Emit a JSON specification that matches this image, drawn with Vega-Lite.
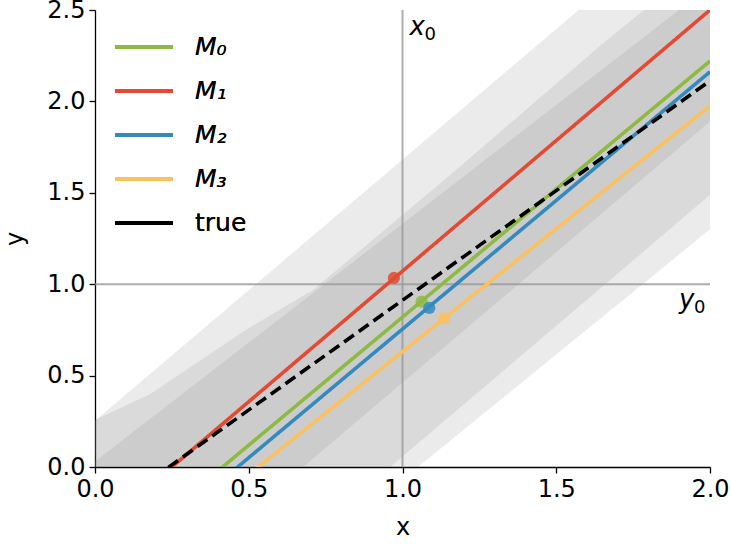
{
  "$schema": "https://vega.github.io/schema/vega-lite/v6.json",
  "width": 615,
  "height": 457,
  "autosize": {"type": "none"},
  "padding": {"left": 95, "top": 10, "right": 21, "bottom": 79},
  "background": "white",
  "config": {
    "view": {"stroke": null},
    "font": "DejaVu Sans",
    "axis": {
      "grid": false, "domainColor": "black", "domainWidth": 1.3, "tickColor": "black", "tickWidth": 1.3, "tickSize": 6,
      "labelFont": "DejaVu Sans", "labelFontSize": 24, "labelColor": "black", "labelPadding": 4, "labelFlush": false, "labelOverlap": false,
      "titleFont": "DejaVu Sans", "titleFontSize": 24, "titleFontWeight": "normal", "titleColor": "black"
    }
  },
  "datasets": {
    "bands": [
      {"band": "a", "x": 0, "lo": -0.967, "hi": 0.253},
      {"band": "a", "x": 2, "lo": 1.89, "hi": 3.11},
      {"band": "b", "x": 0, "lo": -1.37, "hi": 0.257},
      {"band": "b", "x": 0.18, "lo": -1.115, "hi": 0.40},
      {"band": "b", "x": 0.49, "lo": -0.672, "hi": 0.75},
      {"band": "b", "x": 0.71, "lo": -0.357, "hi": 0.97},
      {"band": "b", "x": 1.15, "lo": 0.272, "hi": 1.59},
      {"band": "b", "x": 1.64, "lo": 0.972, "hi": 2.30},
      {"band": "b", "x": 1.785, "lo": 1.18, "hi": 2.5},
      {"band": "b", "x": 2, "lo": 1.49, "hi": 2.8},
      {"band": "c", "x": 0, "lo": -1.437, "hi": 0.03},
      {"band": "c", "x": 2, "lo": 1.30, "hi": 2.63}
    ],
    "lines": [
      {"model": "M₀", "x": 0, "y": -0.581},
      {"model": "M₀", "x": 2, "y": 2.221},
      {"model": "M₁", "x": 0, "y": -0.357},
      {"model": "M₁", "x": 2, "y": 2.5},
      {"model": "M₂", "x": 0, "y": -0.653},
      {"model": "M₂", "x": 2, "y": 2.162},
      {"model": "M₃", "x": 0, "y": -0.714},
      {"model": "M₃", "x": 2, "y": 1.975},
      {"model": "true", "x": 0, "y": -0.288},
      {"model": "true", "x": 2, "y": 2.112}
    ],
    "dots": [
      {"model": "M₀", "x": 1.062, "y": 0.904},
      {"model": "M₁", "x": 0.972, "y": 1.034},
      {"model": "M₂", "x": 1.087, "y": 0.87},
      {"model": "M₃", "x": 1.136, "y": 0.813}
    ],
    "refs": [
      {"x0": 1.0, "y0": 1.0, "xtop": 2.5, "yright": 2.0}
    ]
  },
  "resolve": {"legend": {"color": "independent"}},
  "layer": [
    {
      "data": {"name": "bands"},
      "mark": {"type": "area", "color": "gray", "opacity": 0.16, "clip": true},
      "encoding": {
        "x": {"field": "x", "type": "quantitative", "scale": {"domain": [0, 2], "nice": false}, "axis": {"values": [0, 0.5, 1, 1.5, 2], "format": ".1f", "title": "x", "titlePadding": 14}},
        "y": {"field": "lo", "type": "quantitative", "scale": {"domain": [0, 2.5], "nice": false}, "axis": {"values": [0, 0.5, 1, 1.5, 2, 2.5], "format": ".1f", "title": "y", "titlePadding": 19}},
        "y2": {"field": "hi"},
        "detail": {"field": "band"}
      }
    },
    {
      "data": {"name": "refs"},
      "mark": {"type": "rule", "color": "#999999", "strokeWidth": 2, "opacity": 0.8},
      "encoding": {"x": {"field": "x0", "type": "quantitative"}}
    },
    {
      "data": {"name": "refs"},
      "mark": {"type": "rule", "color": "#999999", "strokeWidth": 2, "opacity": 0.8},
      "encoding": {"y": {"field": "y0", "type": "quantitative"}}
    },
    {
      "data": {"name": "lines"},
      "mark": {"type": "line", "strokeWidth": 3.6, "clip": true},
      "encoding": {
        "x": {"field": "x", "type": "quantitative"},
        "y": {"field": "y", "type": "quantitative"},
        "color": {"field": "model", "type": "nominal",
          "scale": {"domain": ["M₀", "M₁", "M₂", "M₃", "true"], "range": ["#8EBA42", "#E24A33", "#348ABD", "#FBC15E", "#000000"]},
          "legend": {"title": null, "orient": "none", "legendX": 18, "legendY": 6, "symbolType": "stroke", "symbolSize": 3364, "symbolStrokeWidth": 3.8,
            "labelFontSize": 25, "labelFont": "DejaVu Sans", "labelColor": "black", "rowPadding": -17, "labelOffset": 20,
            "encode": {"labels": {"update": {"fontStyle": {"signal": "datum.value === 'true' ? 'normal' : 'italic'"}}}}}},
        "strokeDash": {"field": "model", "type": "nominal",
          "scale": {"domain": ["M₀", "M₁", "M₂", "M₃", "true"], "range": [[1, 0], [1, 0], [1, 0], [1, 0], [12, 6]]},
          "legend": {"title": null, "orient": "none", "legendX": 18, "legendY": 6, "symbolType": "stroke", "symbolSize": 3364, "symbolStrokeWidth": 3.8,
            "labelFontSize": 25, "labelFont": "DejaVu Sans", "labelColor": "black", "rowPadding": -17, "labelOffset": 20,
            "encode": {"labels": {"update": {"fontStyle": {"signal": "datum.value === 'true' ? 'normal' : 'italic'"}}}}}}
      }
    },
    {
      "data": {"name": "dots"},
      "mark": {"type": "circle", "size": 150, "opacity": 0.85},
      "encoding": {
        "x": {"field": "x", "type": "quantitative"},
        "y": {"field": "y", "type": "quantitative"},
        "color": {"field": "model", "type": "nominal", "legend": null}
      }
    },
    {
      "data": {"name": "refs"},
      "mark": {"type": "text", "text": "x", "fontSize": 26, "fontStyle": "italic", "align": "left", "baseline": "alphabetic", "dx": 7, "dy": 25},
      "encoding": {"x": {"field": "x0", "type": "quantitative"}, "y": {"field": "xtop", "type": "quantitative"}}
    },
    {
      "data": {"name": "refs"},
      "mark": {"type": "text", "text": "0", "fontSize": 18, "align": "left", "baseline": "alphabetic", "dx": 22, "dy": 30},
      "encoding": {"x": {"field": "x0", "type": "quantitative"}, "y": {"field": "xtop", "type": "quantitative"}}
    },
    {
      "data": {"name": "refs"},
      "mark": {"type": "text", "text": "y", "fontSize": 26, "fontStyle": "italic", "align": "left", "baseline": "alphabetic", "dx": -31, "dy": 24},
      "encoding": {"x": {"field": "yright", "type": "quantitative"}, "y": {"field": "y0", "type": "quantitative"}}
    },
    {
      "data": {"name": "refs"},
      "mark": {"type": "text", "text": "0", "fontSize": 18, "align": "left", "baseline": "alphabetic", "dx": -16, "dy": 29},
      "encoding": {"x": {"field": "yright", "type": "quantitative"}, "y": {"field": "y0", "type": "quantitative"}}
    }
  ]
}
